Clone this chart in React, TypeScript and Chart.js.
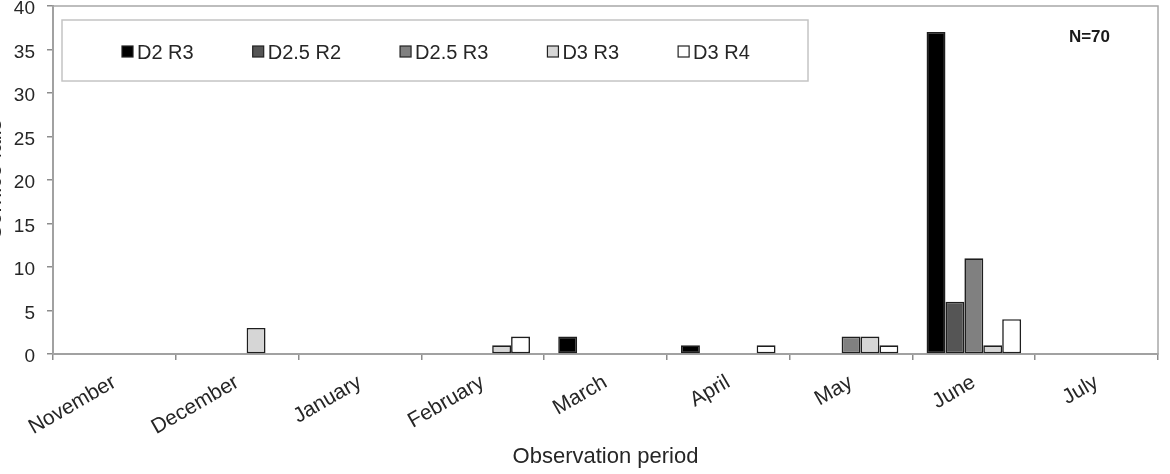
import React, { useEffect, useRef } from "react";
import { Chart, registerables } from "chart.js";

Chart.register(...registerables);

// ---- data ----
const months = ["November", "December", "January", "February", "March", "April", "May", "June", "July"];
const seriesNames = ["D2 R3", "D2.5 R2", "D2.5 R3", "D3 R3", "D3 R4"];
const d2r3 = [0, 0, 0, 0, 2, 1, 0, 37, 0];
const d25r2 = [0, 0, 0, 0, 0, 0, 0, 6, 0];
const d25r3 = [0, 0, 0, 0, 0, 0, 2, 11, 0];
const d3r3 = [0, 3, 0, 1, 0, 0, 2, 1, 0];
const d3r4 = [0, 0, 0.1, 2, 0, 1, 1, 4, 0];
const yMin = 0;
const yMax = 40;
const yStep = 5;
const sampleNote = "N=70";
const xTitle = "Observation period";
const yTitle = "Cornice falls";

const seriesValues = [d2r3, d25r2, d25r3, d3r3, d3r4];
const seriesFills = ["#000000", "#555555", "#808080", "#d6d6d6", "#ffffff"];

const FONT = "'Liberation Sans', Arial, Helvetica, sans-serif";
const TEXT = "#262626";
const AXIS = "#8c8c8c";

const decorPlugin = {
  id: "decor",
  beforeDatasetsDraw(chart: any) {
    const { ctx, chartArea: a } = chart;
    ctx.save();
    ctx.strokeStyle = "#a8a8a8";
    ctx.lineWidth = 1.5;
    ctx.strokeRect(a.left, a.top, a.right - a.left, a.bottom - a.top);
    ctx.restore();
  },
  afterDraw(chart: any) {
    const { ctx, chartArea: a } = chart;
    ctx.save();
    // legend frame
    const bx = a.left + 9;
    const by = a.top + 14;
    const bw = 746;
    const bh = 61;
    ctx.fillStyle = "#ffffff";
    ctx.fillRect(bx, by, bw, bh);
    ctx.strokeStyle = "#c4c4c4";
    ctx.lineWidth = 1.5;
    ctx.strokeRect(bx, by, bw, bh);
    // legend items
    ctx.font = `20px ${FONT}`;
    ctx.textBaseline = "middle";
    ctx.textAlign = "left";
    let x = bx + 60;
    const cy = by + 32;
    chart.data.datasets.forEach((ds: any) => {
      ctx.fillStyle = ds.backgroundColor;
      ctx.fillRect(x, cy - 6, 11, 11);
      ctx.strokeStyle = "#222222";
      ctx.lineWidth = 1.2;
      ctx.strokeRect(x, cy - 6, 11, 11);
      ctx.fillStyle = TEXT;
      ctx.fillText(ds.label, x + 15, cy + 1);
      const w = ctx.measureText(ds.label).width;
      x += 15 + w + 59;
    });
    // sample note
    ctx.font = `bold 17px ${FONT}`;
    ctx.textAlign = "right";
    ctx.textBaseline = "alphabetic";
    ctx.fillStyle = "#1a1a1a";
    ctx.fillText(sampleNote, a.right - 48, a.top + 36);
    ctx.restore();
  },
};

export default function App() {
  const ref = useRef<HTMLCanvasElement | null>(null);

  useEffect(() => {
    if (!ref.current) return;
    const chart = new Chart(ref.current, {
      type: "bar",
      data: {
        labels: months,
        datasets: seriesNames.map((name, i) => ({
          label: name,
          data: seriesValues[i],
          backgroundColor: seriesFills[i],
          borderColor: "#1e1e1e",
          borderWidth: 1.6,
          borderSkipped: false,
          categoryPercentage: 0.77,
          barPercentage: 1.0,
        })),
      },
      options: {
        animation: false,
        responsive: true,
        maintainAspectRatio: false,
        layout: { padding: { left: 0, right: 12, top: 6, bottom: 0 } },
        plugins: {
          legend: { display: false },
          tooltip: { enabled: false },
        },
        scales: {
          x: {
            grid: {
              display: true,
              drawOnChartArea: false,
              drawTicks: true,
              tickLength: 6,
              color: AXIS,
              lineWidth: 1.5,
              offset: true,
            },
            border: { display: true, color: AXIS, width: 2 },
            ticks: {
              autoSkip: false,
              minRotation: 30,
              maxRotation: 30,
              padding: 10,
              color: TEXT,
              font: { family: FONT, size: 21 },
            },
            title: {
              display: true,
              text: xTitle,
              color: TEXT,
              font: { family: FONT, size: 22 },
              padding: { top: 0, bottom: 4 },
            },
            afterFit: (s: any) => {
              s.height = 120;
            },
          },
          y: {
            min: yMin,
            max: yMax,
            grid: {
              display: true,
              drawOnChartArea: false,
              drawTicks: true,
              tickLength: 6,
              color: AXIS,
              lineWidth: 1.5,
            },
            border: { display: true, color: AXIS, width: 2 },
            ticks: {
              stepSize: yStep,
              padding: 12,
              labelOffset: 3,
              color: TEXT,
              font: { family: FONT, size: 19 },
            },
            title: {
              display: true,
              text: yTitle,
              color: TEXT,
              font: { family: FONT, size: 22 },
              padding: 0,
            },
            afterFit: (s: any) => {
              s.width = 71;
              s.paddingTop = 0;
              s.paddingBottom = 0;
            },
          },
        },
      },
      plugins: [decorPlugin],
    });
    return () => chart.destroy();
  }, []);

  return (
    <div style={{ position: "absolute", left: -18, top: 0, width: 1188, height: 474 }}>
      <canvas ref={ref} />
    </div>
  );
}
